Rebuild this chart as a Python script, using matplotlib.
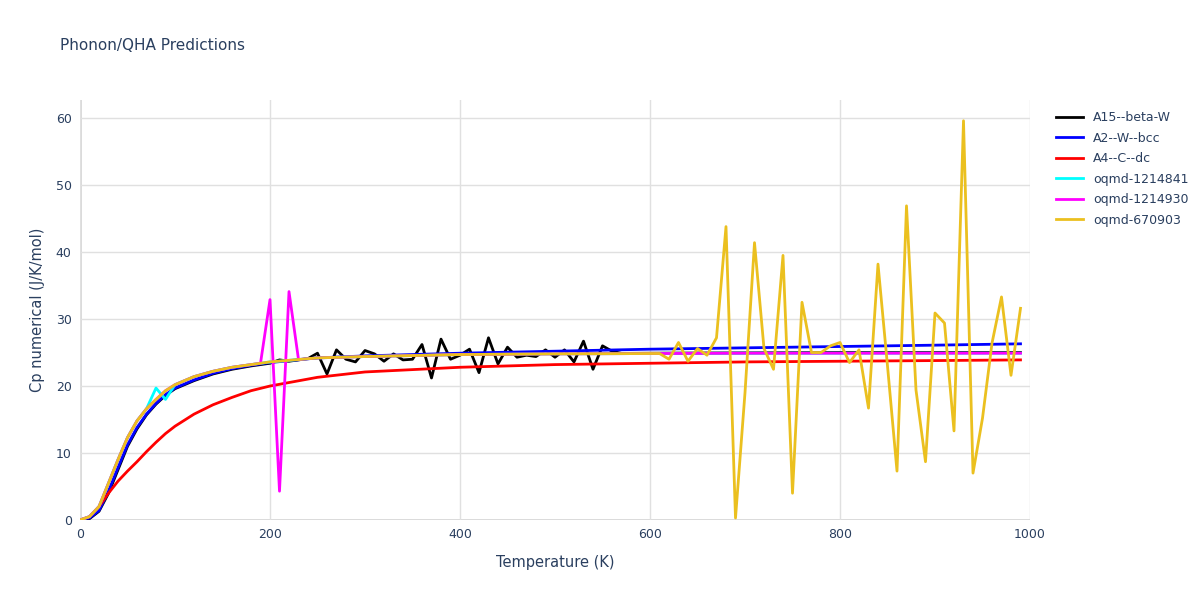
import numpy as np
import matplotlib
matplotlib.use("Agg")
import matplotlib.pyplot as plt

# smooth base curves
T_base = [0, 10, 20, 30, 40, 50, 60, 70, 80, 90, 100, 120, 140, 160, 180, 200, 250, 300, 400, 500, 600, 700, 800, 900, 990]
cp_a2 = [0, 0.3, 1.4, 4.3, 7.8, 11.2, 13.8, 15.8, 17.4, 18.7, 19.7, 20.9, 21.9, 22.6, 23.1, 23.5, 24.2, 24.5, 24.9, 25.2, 25.5, 25.7, 25.9, 26.1, 26.3]
cp_a4 = [0, 0.5, 2.0, 4.0, 5.8, 7.3, 8.7, 10.2, 11.6, 12.9, 14.0, 15.8, 17.2, 18.3, 19.3, 20.0, 21.3, 22.1, 22.8, 23.2, 23.4, 23.6, 23.7, 23.8, 23.9]
cp_oq = [0, 0.5, 2.0, 5.5, 9.0, 12.3, 14.8, 16.6, 18.0, 19.3, 20.2, 21.4, 22.2, 22.8, 23.2, 23.6, 24.2, 24.4, 24.7, 24.8, 24.85, 24.9, 24.9, 24.9, 24.9]
cp_a15_base = [0, 0.2, 1.3, 4.0, 7.5, 11.0, 13.6, 15.7, 17.3, 18.6, 19.6, 20.8, 21.8, 22.5, 23.0, 23.4, 24.0, 24.4, 24.7, 24.8, 24.9, 24.95, 25.0, 25.0, 25.0]

T = np.arange(0, 1000, 10)

# A15 noisy section (200..560 K)
T_a15_noise = list(range(200, 570, 10))
cp_a15_noise = [23.4, 23.9, 23.7, 23.9, 24.1, 24.9, 21.8, 25.4, 24.0, 23.6, 25.3, 24.8, 23.7, 24.8, 23.9, 24.0,
                26.2, 21.2, 27.0, 24.0, 24.6, 25.5, 22.0, 27.2, 23.3, 25.8, 24.3, 24.6, 24.4, 25.4, 24.3, 25.4,
                23.6, 26.7, 22.5, 26.0, 25.2]

# oqmd-1214930 spikes
T_mag_spk = [200, 210, 220]
cp_mag_spk = [32.9, 4.3, 34.1]
# oqmd-1214841 bump
T_cyan_spk = [80, 90]
cp_cyan_spk = [19.7, 18.0]

# oqmd-670903 noisy section (620..990 K)
T_y_noise = list(range(620, 1000, 10))
cp_y_noise = [24.0, 26.5, 23.7, 25.6, 24.6, 27.2, 43.8, 0.3, 19.0, 41.4, 25.6, 22.5, 39.5, 4.0, 32.5, 25.0,
              25.0, 26.0, 26.5, 23.5, 25.4, 16.7, 38.2, 23.0, 7.3, 46.9, 19.4, 8.7, 30.9, 29.4, 13.3, 59.6,
              7.0, 15.2, 26.4, 33.3, 21.6, 31.6]

def series(base, tn=None, vn=None):
    y = np.interp(T, T_base, base)
    if tn is not None:
        for t, v in zip(tn, vn):
            y[T == t] = v
    return y

data = [
    ("A15--beta-W", "black", series(cp_a15_base, T_a15_noise, cp_a15_noise)),
    ("A2--W--bcc", "blue", series(cp_a2)),
    ("A4--C--dc", "red", series(cp_a4)),
    ("oqmd-1214841", "cyan", series(cp_oq, T_cyan_spk, cp_cyan_spk)),
    ("oqmd-1214930", "magenta", series(cp_oq, T_mag_spk, cp_mag_spk)),
    ("oqmd-670903", "#EBC01F", series(cp_oq, T_y_noise, cp_y_noise)),
]

txt = "#2a3f5f"
fig = plt.figure(figsize=(12, 6), dpi=100)
ax = fig.add_axes([80/1200, 80/600, 950/1200, 420/600])
for name, c, y in data:
    ax.plot(T, y, color=c, lw=2, label=name)

ax.set_xlim(0, 1000)
ax.set_ylim(0, 62.7)
ax.set_xticks([0, 200, 400, 600, 800, 1000])
ax.set_yticks([0, 10, 20, 30, 40, 50, 60])
ax.grid(True, color="#e0e0e0", lw=1)
ax.set_axisbelow(True)
for s in ax.spines.values():
    s.set_visible(False)
ax.axhline(0, color="#444", lw=1, zorder=0)
ax.axvline(0, color="#444", lw=1, zorder=0)
ax.tick_params(length=0, colors=txt, labelsize=9, pad=6)
ax.set_xlabel("Temperature (K)", color=txt, fontsize=10.5, labelpad=10)
ax.set_ylabel("Cp numerical (J/K/mol)", color=txt, fontsize=10.5, labelpad=8)
fig.text(60/1200, 1-45/600, "Phonon/QHA Predictions", color=txt, fontsize=11, va="center")
ax.legend(loc="upper left", bbox_to_anchor=(1.022, 0.985), frameon=False, fontsize=9,
          handlelength=2.2, labelcolor=txt, borderaxespad=0, labelspacing=0.6)
fig.savefig("out.png", dpi=100)
